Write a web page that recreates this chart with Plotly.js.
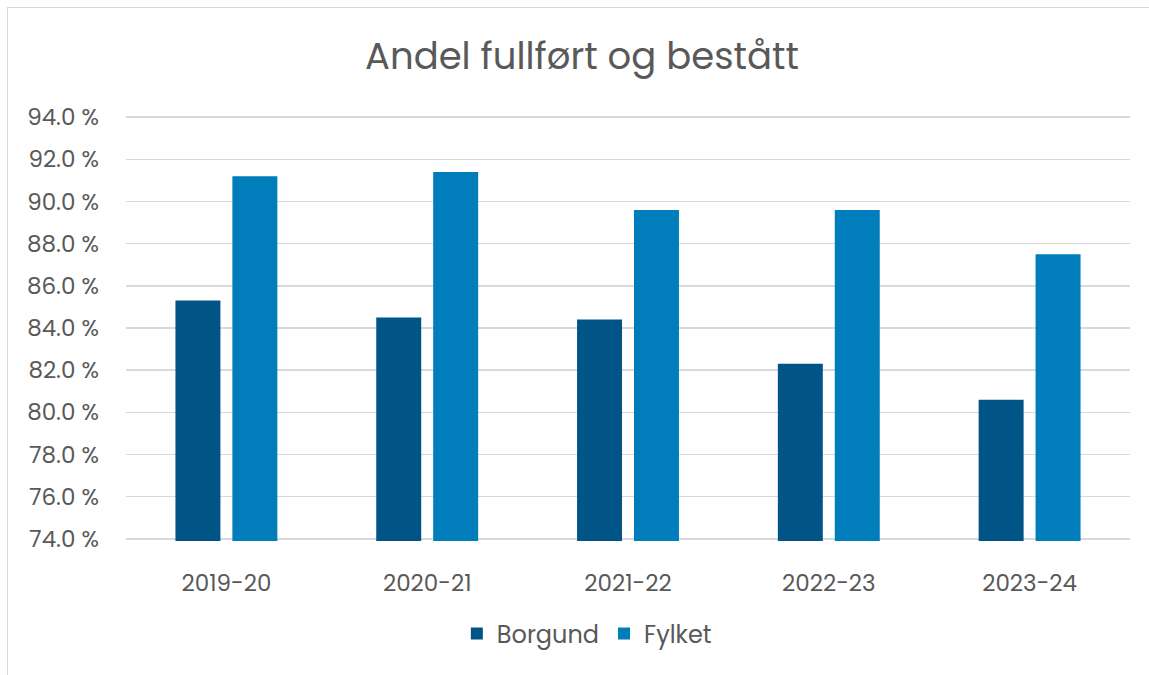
<!DOCTYPE html>
<html>
<head>
<meta charset="utf-8">
<script src="https://cdn.plot.ly/plotly-3.0.1.min.js"></script>
<style>
html,body{margin:0;padding:0;background:#fff;}
#chart{width:1149px;height:675px;position:absolute;left:0;top:0;}
#frame{position:absolute;left:7px;top:7px;width:1160px;height:700px;border-left:1.5px solid #d9d9d9;border-top:1.5px solid #d9d9d9;pointer-events:none;}
</style>
</head>
<body>
<div id="chart"></div>
<div id="frame"></div>
<script>
const categories = ["2019-20", "2020-21", "2021-22", "2022-23", "2023-24"];
const borgund = [85.3, 84.5, 84.4, 82.3, 80.6];
const fylket = [91.2, 91.4, 89.6, 89.6, 87.5];
const seriesNames = ["Borgund", "Fylket"];
const titleText = "Andel fullført og bestått";

const font = "Poppins, 'Open Sans', Inter, sans-serif";
const data = [
  {type: "bar", name: seriesNames[0], x: categories, y: borgund, marker: {color: "#005586"}},
  {type: "bar", name: seriesNames[1], x: categories, y: fylket, marker: {color: "#007DBA"}}
];
const layout = {
  width: 1149, height: 675,
  margin: {l: 126, r: 19, t: 115, b: 134},
  paper_bgcolor: "rgba(0,0,0,0)", plot_bgcolor: "rgba(0,0,0,0)",
  font: {family: font, color: "#595959", size: 23},
  title: {text: titleText, x: 0.5065, xref: "container", xanchor: "center", y: 0.917, yanchor: "middle", font: {size: 37, color: "#595959", family: font}},
  barmode: "group", bargap: 0.433, bargroupgap: 0.21,
  xaxis: {showgrid: false, showline: false, zeroline: false, ticks: "", tickangle: 0, ticklabelstandoff: 26, tickfont: {size: 23, color: "#595959"}, automargin: false},
  yaxis: {range: [73.9, 94.1], dtick: 2, tick0: 74, tickformat: ".1f", ticksuffix: " %", showgrid: true, gridcolor: "#d9d9d9", gridwidth: 1.5, zeroline: false, showline: false, ticks: "", ticklabelstandoff: 26, tickfont: {size: 23, color: "#595959"}, automargin: false},
  showlegend: true,
  legend: {orientation: "h", x: 0.459, xanchor: "center", y: -0.165, yanchor: "top", font: {size: 24, color: "#595959"}, itemwidth: 30}
};
Plotly.newPlot("chart", data, layout, {displayModeBar: false, staticPlot: true});
</script>
</body>
</html>
